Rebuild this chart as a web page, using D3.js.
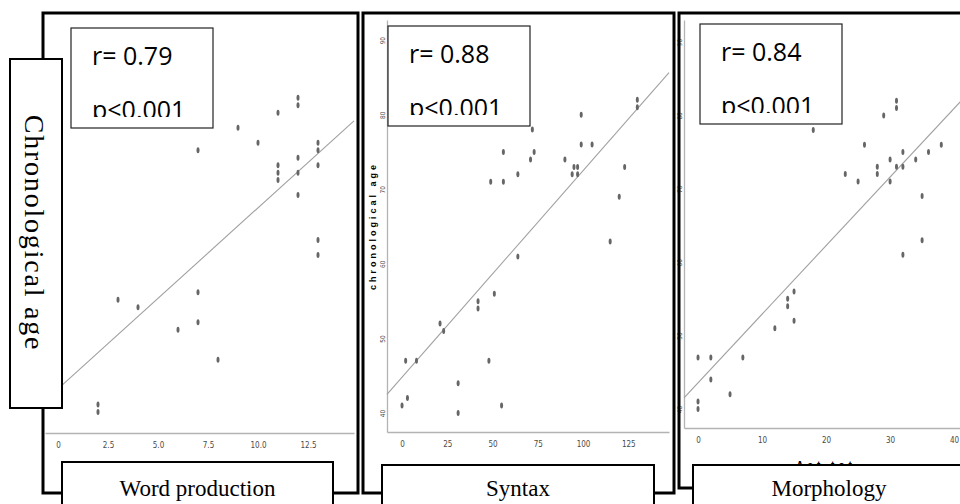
<!DOCTYPE html>
<html>
<head>
<meta charset="utf-8">
<script src="https://cdn.jsdelivr.net/npm/d3@7"></script>
<style>
  body { margin: 0; background: #fff; }
  .tick text { fill: #4a4a4a; font-family: "DejaVu Sans Condensed", "Liberation Sans Narrow", sans-serif; font-stretch: condensed; }
</style>
</head>
<body>
<div id="chart"></div>
<script>
// word production scores vs age (months)
const wordScore = [2,2,3,4,6,7,7,8,7,9,10,11,12,12,11,11,11,12,12,12,13,13,13,13,13];
const wordAge   = [40,41,55,54,51,56,52,47,75,78,76,80,82,81,73,72,71,74,72,69,76,75,73,63,61];

// syntax scores vs age
const syntaxScore = [130,130,99,72,56,73,71,99,105,90,95,97,94,97,64,49,56,123,120,115,64,51,42,42,21,23,2,8,48,31,3,0,31,55];
const syntaxAge   = [82,81,80,78,75,75,74,76,76,74,73,73,72,72,72,71,71,73,69,63,61,56,55,54,52,51,47,47,47,44,42,41,40,41];

// morphology scores vs age
const morphScore = [31,31,29,18,26,38,36,32,30,34,28,28,31,32,23,25,30,35,35,32,15,14,14,15,12,0,2,7,2,5,0,0];
const morphAge   = [82,81,80,78,76,76,75,75,74,74,73,72,73,73,72,71,71,69,63,61,56,55,54,52,51,47,47,47,44,42,41,40];

const panelNames = ["Word production", "Syntax", "Morphology"];
const rValues = ["0.79", "0.88", "0.84"];
const pLabel = "p<0.001";
const fitIntercept = [43.1, 44.8, 43.55];
const fitSlope = [2.42, 0.277, 0.935];

const wordTicks = [0, 2.5, 5, 7.5, 10, 12.5];
const syntaxTicks = [0, 25, 50, 75, 100, 125];
const morphTicks = [0, 10, 20, 30, 40];
const ageTicks = [40, 50, 60, 70, 80, 90];

const width = 960, height = 504;

const svg = d3.select("#chart").append("svg")
  .attr("width", width)
  .attr("height", height);

const defs = svg.append("defs");

const panels = [
  { xs: wordScore, ys: wordAge, ticks: wordTicks,
    fmt: d => d === 0 ? "0" : d3.format(".1f")(d),
    xDomain: [-0.65, 14.8], xRange: [45, 354],
    yDomain: [37.2, 92.4], yRange: [433, 20], showY: false,
    box: [71, 28], frame: [43, 13, 358, 493], label: [62, 462, 333] },
  { xs: syntaxScore, ys: syntaxAge, ticks: syntaxTicks,
    fmt: d3.format("d"),
    xDomain: [-8.3, 147.5], xRange: [387, 669],
    yDomain: [37.45, 92.7], yRange: [432, 20], showY: true,
    box: [388, 26], frame: [363, 13, 674, 493], label: [382, 465, 654] },
  { xs: morphScore, ys: morphAge, ticks: morphTicks,
    fmt: d3.format("d"),
    xDomain: [-2.19, 41.7], xRange: [684, 965],
    yDomain: [37.4, 93.0], yRange: [428, 20], showY: true,
    box: [700, 24], frame: [679, 13, 980, 488], label: [693, 465, 965] }
];

panels.forEach(function(p, i) {
  const g = svg.append("g");
  const x = d3.scaleLinear().domain(p.xDomain).range(p.xRange);
  const y = d3.scaleLinear().domain(p.yDomain).range(p.yRange);

  // x axis
  const xa = g.append("g")
    .attr("transform", "translate(0," + p.yRange[0] + ")")
    .call(d3.axisBottom(x).tickValues(p.ticks).tickFormat(p.fmt)
      .tickSize(0).tickSizeOuter(0).tickPadding(9));
  xa.select(".domain").attr("stroke", "#b3b3b3").attr("stroke-width", 1.3);
  xa.selectAll("text").style("font-size", "8px");

  if (p.showY) {
    const ya = g.append("g")
      .attr("transform", "translate(" + p.xRange[0] + ",0)")
      .call(d3.axisLeft(y).tickValues(ageTicks).tickFormat(d3.format("d"))
        .tickSize(0).tickSizeOuter(0));
    ya.select(".domain").attr("stroke", "#b3b3b3").attr("stroke-width", 1.3);
    ya.selectAll("text")
      .style("font-size", "6.5px")
      .attr("x", 0)
      .attr("dy", "0.35em")
      .attr("text-anchor", "middle")
      .attr("transform", "translate(-4,0) rotate(-90)");
  }

  // regression line
  g.append("line")
    .attr("x1", x(p.xDomain[0]))
    .attr("y1", y(fitIntercept[i] + fitSlope[i] * p.xDomain[0]))
    .attr("x2", x(p.xDomain[1]))
    .attr("y2", y(fitIntercept[i] + fitSlope[i] * p.xDomain[1]))
    .attr("stroke", "#a0a0a0")
    .attr("stroke-width", 1.1);

  // points
  g.selectAll("ellipse")
    .data(p.xs.map((v, k) => [v, p.ys[k]]))
    .enter()
    .append("ellipse")
      .attr("cx", d => x(d[0]))
      .attr("cy", d => y(d[1]))
      .attr("rx", 1.5)
      .attr("ry", 3)
      .attr("fill", "#666");

  // r / p box
  const bx = p.box[0], by = p.box[1];
  defs.append("clipPath").attr("id", "clip" + i)
    .append("rect").attr("x", bx).attr("y", by).attr("width", 142).attr("height", 89);
  g.append("rect")
    .attr("x", bx).attr("y", by).attr("width", 142).attr("height", 100)
    .attr("fill", "#fff").attr("stroke", "#222").attr("stroke-width", 1.2);
  g.append("text")
    .attr("x", bx + 21).attr("y", by + 37)
    .style("font-family", "'Open Sans', sans-serif").style("font-size", "25px")
    .text("r= " + rValues[i]);
  g.append("text")
    .attr("x", bx + 21).attr("y", by + 91)
    .attr("clip-path", "url(#clip" + i + ")")
    .style("font-family", "'Open Sans', sans-serif").style("font-size", "25px")
    .text(pLabel);
});

// small axis titles from the original screenshots
svg.append("text")
  .attr("transform", "translate(373,226) rotate(-90)")
  .attr("text-anchor", "middle")
  .attr("dy", "0.35em")
  .style("font-family", "'Liberation Sans', Arial, sans-serif")
  .style("font-weight", "bold").style("font-size", "9px").style("letter-spacing", "3px")
  .text("chronological age");
svg.append("text")
  .attr("x", 826).attr("y", 469)
  .attr("text-anchor", "middle")
  .style("font-family", "'Liberation Sans', Arial, sans-serif")
  .style("font-weight", "bold").style("font-size", "10px").style("letter-spacing", "4px")
  .text("Ast tot");

// panel frames
panels.forEach(function(p) {
  const f = p.frame;
  svg.append("rect")
    .attr("x", f[0]).attr("y", f[1])
    .attr("width", f[2] - f[0]).attr("height", f[3] - f[1])
    .attr("fill", "none").attr("stroke", "#000").attr("stroke-width", 3);
});

// y label box
svg.append("rect")
  .attr("x", 10).attr("y", 59).attr("width", 52).attr("height", 349)
  .attr("fill", "#fff").attr("stroke", "#000").attr("stroke-width", 2);
svg.append("text")
  .attr("transform", "translate(25,233) rotate(90)")
  .attr("text-anchor", "middle")
  .style("font-family", "'Liberation Serif', 'Times New Roman', serif")
  .style("font-size", "28px").style("letter-spacing", "1.8px")
  .text("Chronological age");

// panel name boxes
panels.forEach(function(p, i) {
  const l = p.label;
  svg.append("rect")
    .attr("x", l[0]).attr("y", l[1]).attr("width", l[2] - l[0]).attr("height", 60)
    .attr("fill", "#fff").attr("stroke", "#000").attr("stroke-width", 2);
  svg.append("text")
    .attr("x", (l[0] + l[2]) / 2).attr("y", 496)
    .attr("text-anchor", "middle")
    .style("font-family", "'Liberation Serif', 'Times New Roman', serif")
    .style("font-size", "23px")
    .text(panelNames[i]);
});
</script>
</body>
</html>
